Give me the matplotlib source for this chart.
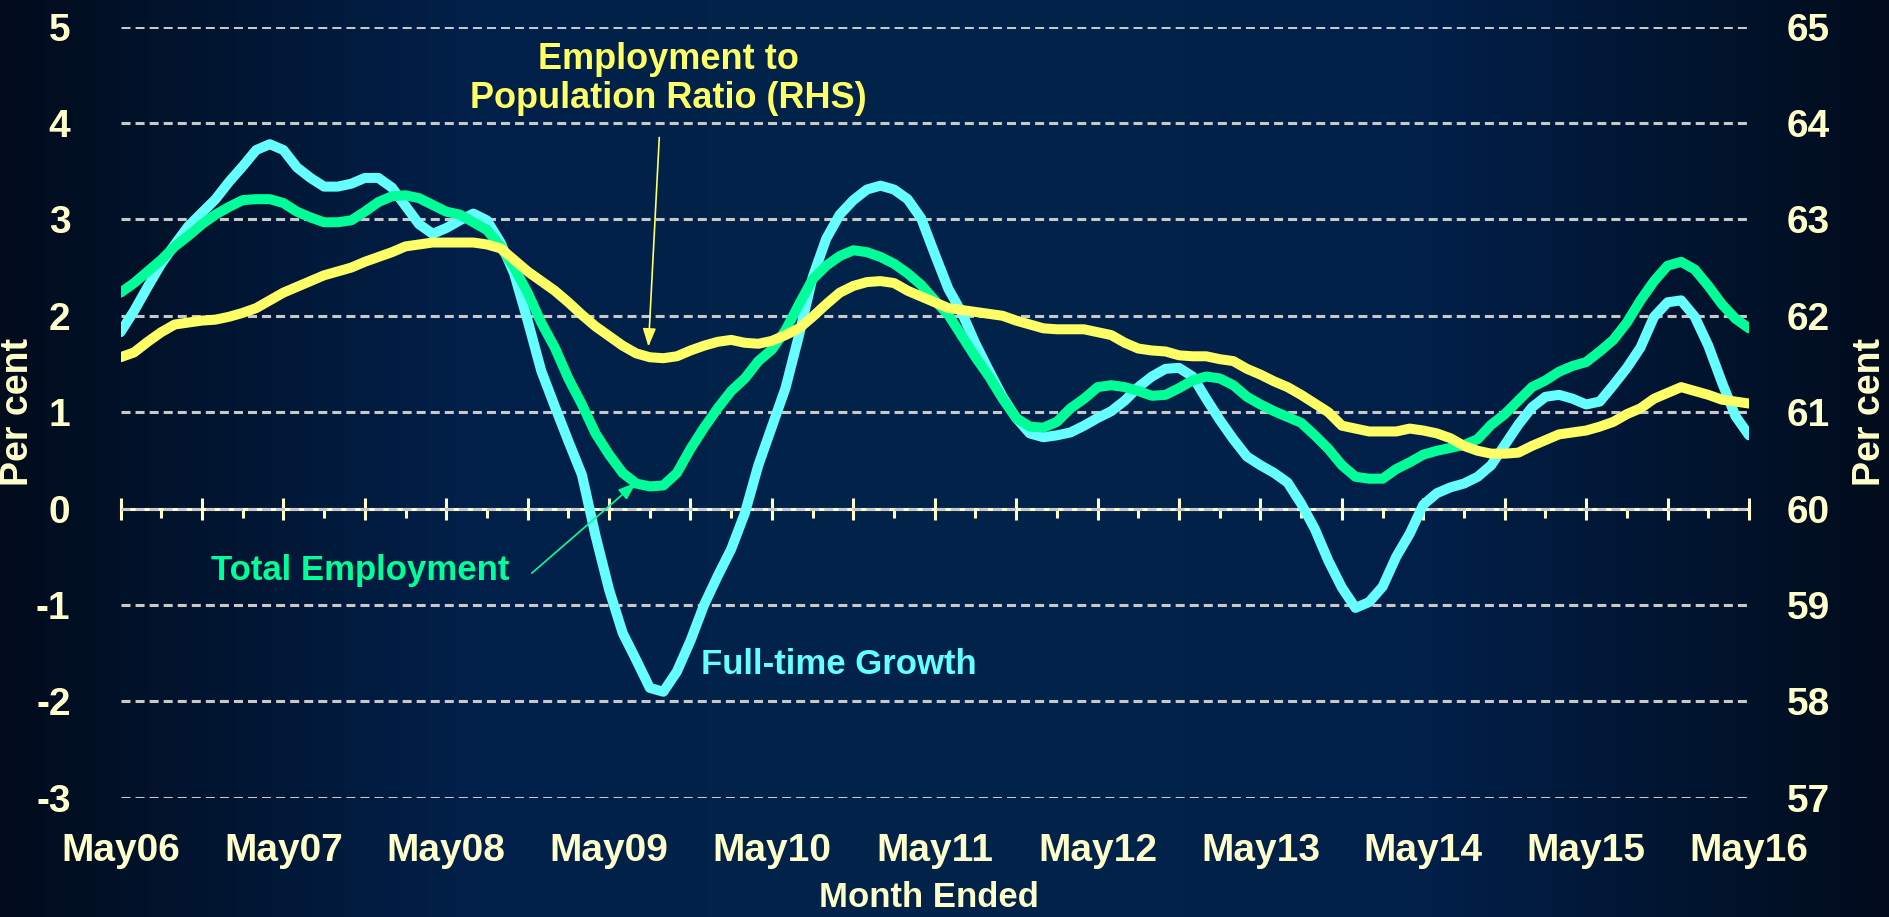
import numpy as np
import pandas as pd
import matplotlib
matplotlib.use('Agg')
import matplotlib.pyplot as plt
from matplotlib.colors import LinearSegmentedColormap

plt.rcParams['font.family'] = ['Liberation Sans', 'DejaVu Sans']
plt.rcParams['font.weight'] = 'bold'
plt.rcParams['axes.labelweight'] = 'bold'
plt.rcParams['axes.unicode_minus'] = False

# monthly, May 2006 to May 2016
months = pd.date_range('2006-05-01', '2016-05-01', freq='MS')

# full-time employment growth, year-ended, per cent (LHS)
full_time = [1.83, 2.05, 2.30, 2.54, 2.74, 2.93, 3.07, 3.21, 3.39, 3.55, 3.72, 3.78,
             3.72, 3.54, 3.43, 3.34, 3.34, 3.37, 3.43, 3.43, 3.33, 3.14, 2.95, 2.85,
             2.91, 2.99, 3.06, 2.99, 2.76, 2.44, 1.95, 1.43, 1.06, 0.70, 0.35, -0.28,
             -0.84, -1.29, -1.57, -1.86, -1.90, -1.69, -1.37, -1.00, -0.70, -0.42, -0.05, 0.45,
             0.85, 1.25, 1.80, 2.40, 2.80, 3.05, 3.20, 3.31, 3.35, 3.31, 3.21, 3.01,
             2.64, 2.28, 2.03, 1.71, 1.43, 1.16, 0.94, 0.78, 0.74, 0.76, 0.79, 0.86,
             0.94, 1.01, 1.12, 1.26, 1.37, 1.45, 1.46, 1.37, 1.14, 0.92, 0.72, 0.54,
             0.45, 0.37, 0.27, 0.05, -0.21, -0.54, -0.82, -1.03, -0.97, -0.81, -0.50, -0.26,
             0.04, 0.16, 0.22, 0.26, 0.33, 0.45, 0.66, 0.87, 1.05, 1.16, 1.18, 1.14,
             1.08, 1.11, 1.28, 1.46, 1.67, 1.99, 2.14, 2.16, 1.99, 1.69, 1.31, 0.96,
             0.76]

# total employment growth, year-ended, per cent (LHS)
total_emp = [2.24, 2.34, 2.46, 2.58, 2.72, 2.83, 2.95, 3.05, 3.13, 3.20, 3.21, 3.21,
             3.17, 3.08, 3.02, 2.97, 2.97, 2.99, 3.08, 3.18, 3.24, 3.25, 3.22, 3.15,
             3.08, 3.05, 2.97, 2.89, 2.72, 2.50, 2.24, 1.93, 1.67, 1.35, 1.08, 0.78,
             0.56, 0.37, 0.26, 0.23, 0.24, 0.37, 0.62, 0.84, 1.04, 1.22, 1.35, 1.53,
             1.65, 1.85, 2.12, 2.38, 2.52, 2.62, 2.68, 2.66, 2.61, 2.54, 2.44, 2.32,
             2.16, 2.01, 1.79, 1.57, 1.37, 1.14, 0.94, 0.85, 0.84, 0.90, 1.04, 1.14,
             1.26, 1.28, 1.26, 1.22, 1.17, 1.18, 1.25, 1.33, 1.37, 1.35, 1.28, 1.16,
             1.08, 1.01, 0.95, 0.89, 0.76, 0.62, 0.45, 0.33, 0.31, 0.31, 0.41, 0.48,
             0.56, 0.60, 0.63, 0.66, 0.72, 0.87, 0.98, 1.12, 1.26, 1.33, 1.42, 1.48,
             1.52, 1.63, 1.75, 1.93, 2.16, 2.36, 2.52, 2.56, 2.48, 2.31, 2.12, 1.97,
             1.87]

# employment to population ratio, per cent (RHS)
emp_pop = [61.57, 61.62, 61.73, 61.83, 61.91, 61.93, 61.95, 61.96, 61.99, 62.03, 62.08, 62.16,
           62.24, 62.30, 62.36, 62.42, 62.46, 62.50, 62.56, 62.61, 62.66, 62.72, 62.74, 62.76,
           62.76, 62.76, 62.76, 62.74, 62.70, 62.58, 62.46, 62.36, 62.26, 62.14, 62.01, 61.89,
           61.79, 61.69, 61.61, 61.57, 61.56, 61.58, 61.64, 61.69, 61.73, 61.75, 61.72, 61.71,
           61.74, 61.80, 61.87, 61.99, 62.12, 62.24, 62.31, 62.35, 62.36, 62.34, 62.26, 62.20,
           62.14, 62.08, 62.06, 62.04, 62.02, 62.00, 61.95, 61.91, 61.87, 61.86, 61.86, 61.86,
           61.83, 61.80, 61.72, 61.66, 61.64, 61.63, 61.59, 61.58, 61.58, 61.55, 61.53, 61.45,
           61.39, 61.32, 61.26, 61.18, 61.09, 61.00, 60.86, 60.83, 60.80, 60.80, 60.80, 60.83,
           60.81, 60.78, 60.73, 60.65, 60.60, 60.57, 60.57, 60.58, 60.65, 60.71, 60.77, 60.79,
           60.81, 60.85, 60.90, 60.98, 61.04, 61.14, 61.20, 61.26, 61.22, 61.18, 61.13, 61.11,
           61.09]

x = np.arange(len(months))
year_pos = x[::12]
year_labels = [d.strftime('%b%y') for d in months[::12]]

cream = '#FFFFCC'
cyan = '#66FFFF'
green = '#00FF99'
yellow = '#FFFF66'
LW = 7.2

fig = plt.figure(figsize=(18.89, 9.17), dpi=100)

# background gradient, dark at the edges, lighter navy in the middle
bg = fig.add_axes([0, 0, 1, 1], zorder=-10)
cmap = LinearSegmentedColormap.from_list('bg', ['#020c1c', '#01204a', '#012449', '#01204a', '#020c1c'])
bg.imshow(np.linspace(0, 1, 512)[None, :], aspect='auto', cmap=cmap, extent=[0, 1, 0, 1])
bg.axis('off')

ax = fig.add_axes([0.0638, 0.130, 0.8621, 0.841])
ax.set_facecolor('none')
ax.plot(x, full_time, color=cyan, lw=LW, solid_joinstyle='round', solid_capstyle='round', zorder=3)
ax.plot(x, total_emp, color=green, lw=LW, solid_joinstyle='round', solid_capstyle='round', zorder=4)

ax.set_xlim(0, 120)
ax.set_ylim(-3, 5)
ax.set_yticks(range(-3, 6))
ax.yaxis.grid(True, color='#C8C8C8', lw=2.2, linestyle=(0, (2.95, 1.65)))
ax.set_axisbelow(True)
for s in ax.spines.values():
    s.set_visible(False)
ax.tick_params(axis='y', length=0, pad=36, labelsize=28, labelcolor=cream)
ax.set_xticks(year_pos)
ax.set_xticklabels(year_labels)
ax.tick_params(axis='x', length=0, pad=25, labelsize=28, labelcolor=cream)

ax.set_ylabel('Per cent', fontsize=27, color=cream, va='center', ha='center')
ax.yaxis.set_label_coords(-0.063, 0.5)
ax.set_xlabel('Month Ended', fontsize=25, color=cream, va='center')
ax.xaxis.set_label_coords(0.4965, -0.129)

# axis line through zero with half-year and quarter ticks
sec = ax.secondary_xaxis(0.375)
sec.set_xticks(x[::6])
sec.set_xticks(x[3::6], minor=True)
sec.tick_params(which='major', direction='inout', length=16, width=2.2, color=cream,
                labelbottom=False, labeltop=False)
sec.tick_params(which='minor', direction='out', length=6.5, width=2.2, color=cream)
for name, s in sec.spines.items():
    s.set_color(cream)
    s.set_linewidth(2.2)

ax2 = ax.twinx()
ax2.plot(x, emp_pop, color=yellow, lw=LW, solid_joinstyle='round', solid_capstyle='round', zorder=5)
ax2.set_ylim(57, 65)
ax2.set_yticks(range(57, 66))
for s in ax2.spines.values():
    s.set_visible(False)
ax2.tick_params(axis='y', length=0, pad=27, labelsize=28, labelcolor=cream)
ax2.set_ylabel('Per cent', fontsize=27, color=cream, rotation=90, va='center', ha='center')
ax2.yaxis.set_label_coords(1.0743, 0.5)

# annotations
arrow_style = '-|>,head_length=0.55,head_width=0.2'
ax.text(40.4, 4.46, 'Employment to\nPopulation Ratio (RHS)', color=yellow, fontsize=26,
        ha='center', va='center', linespacing=1.15)
ax.annotate('', xy=(38.9, 1.68), xytext=(39.7, 3.85),
            arrowprops=dict(arrowstyle=arrow_style, color=yellow, lw=1.2,
                            shrinkA=0, shrinkB=0, mutation_scale=20))
ax.text(6.7, -0.64, 'Total Employment', color=green, fontsize=25, ha='left', va='center')
ax.annotate('', xy=(38.0, 0.27), xytext=(30.3, -0.67),
            arrowprops=dict(arrowstyle=arrow_style, color=green, lw=1.2,
                            shrinkA=0, shrinkB=0, mutation_scale=20))
ax.text(42.8, -1.62, 'Full-time Growth', color=cyan, fontsize=25, ha='left', va='center')

fig.savefig('out.png', dpi=100)
